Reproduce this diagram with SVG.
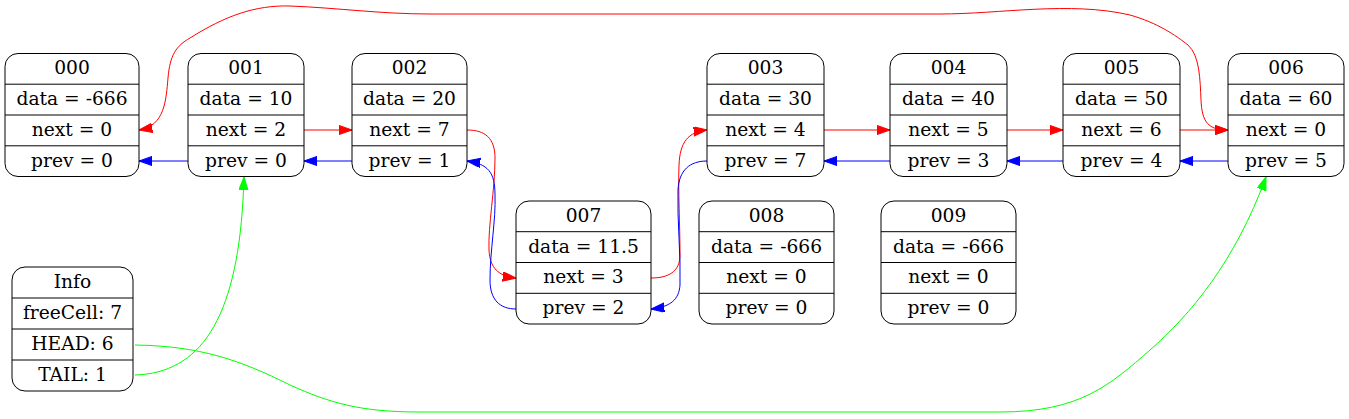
<svg xmlns="http://www.w3.org/2000/svg" width="1349" height="419" viewBox="0 0 1349 419">
<style>
.box{fill:#fff;stroke:#000;stroke-width:1}
.sep{stroke:#000;stroke-width:1}
text{font-family:"DejaVu Serif","Liberation Serif",serif;font-size:18.67px;text-anchor:middle;fill:#000}
.e{fill:none;stroke-width:1}
.r{stroke:#f00}.b{stroke:#00f}.g{stroke:#0f0}
</style>
<defs>
<marker id="ar" markerUnits="userSpaceOnUse" markerWidth="15" markerHeight="11" refX="13.3" refY="4.7" orient="auto-start-reverse"><path d="M0,0 L13.3,4.7 L0,9.4 z" fill="#f00" stroke="#f00"/></marker>
<marker id="ab" markerUnits="userSpaceOnUse" markerWidth="15" markerHeight="11" refX="13.3" refY="4.7" orient="auto"><path d="M0,0 L13.3,4.7 L0,9.4 z" fill="#00f" stroke="#00f"/></marker>
<marker id="ag" markerUnits="userSpaceOnUse" markerWidth="15" markerHeight="11" refX="13.3" refY="4.7" orient="auto"><path d="M0,0 L13.3,4.7 L0,9.4 z" fill="#0f0" stroke="#0f0"/></marker>
</defs>
<rect width="1349" height="419" fill="#fff"/>

<g id="connectors">
<path class="e r" d="M304,130 L352,130" marker-end="url(#ar)"/>
<path class="e b" d="M352,161 L304,161" marker-end="url(#ab)"/>
<path class="e b" d="M188,161 L139,161" marker-end="url(#ab)"/>
<path class="e r" d="M824,130 L890,130" marker-end="url(#ar)"/>
<path class="e r" d="M1007,130 L1063,130" marker-end="url(#ar)"/>
<path class="e r" d="M1180,130 L1228,130" marker-end="url(#ar)"/>
<path class="e b" d="M890,161 L824,161" marker-end="url(#ab)"/>
<path class="e b" d="M1063,161 L1007,161" marker-end="url(#ab)"/>
<path class="e b" d="M1228,161 L1180,161" marker-end="url(#ab)"/>
<path class="e r" d="M467,130 C485,130 495,138 495,158 C495,190 488,225 489,250 C490,268 498,276 516,278" marker-end="url(#ar)"/>
<path class="e b" d="M516,309 C500,309 490,300 490,280 C490,250 496,220 495,195 C495,172 488,164 467,161" marker-end="url(#ab)"/>
<path class="e r" d="M651,278 C668,278 680,272 680,255 C680,225 678,190 679,165 C680,142 688,132 707,130" marker-end="url(#ar)"/>
<path class="e b" d="M707,161 C690,161 679,170 678,190 C677,220 681,255 680,285 C679,300 670,307 651,309" marker-end="url(#ab)"/>
<path class="e r" d="M139,130 C165,126 166,100 168,78 C170,55 176,46 190,38 C225,16 255,5 290,6 C340,8 380,14 430,14 L940,14 C1000,14 1070,1 1130,15 C1158,23 1175,35 1188,45 C1200,56 1200,80 1201,100 C1202,122 1208,130 1228,130" marker-start="url(#ar)" marker-end="url(#ar)"/>
<path class="e g" d="M135,375 C200,373 236,320 243,200 L244,177" marker-end="url(#ag)"/>
<path class="e g" d="M135,345 C200,346 240,360 290,385 C330,403 360,412 420,412 L1000,412 C1080,412 1110,385 1150,350 C1190,315 1235,262 1266,177" marker-end="url(#ag)"/>
</g>

<g id="n000">
<rect class="box" x="5" y="53.5" width="134" height="123" rx="13"/>
<path class="sep" d="M5,84.2H139M5,115H139M5,145.8H139"/>
<text x="72" y="74">000</text><text x="72" y="105">data = -666</text><text x="72" y="136">next = 0</text><text x="72" y="167">prev = 0</text>
</g>
<g id="n001">
<rect class="box" x="188" y="53.5" width="116" height="123" rx="13"/>
<path class="sep" d="M188,84.2H304M188,115H304M188,145.8H304"/>
<text x="246" y="74">001</text><text x="246" y="105">data = 10</text><text x="246" y="136">next = 2</text><text x="246" y="167">prev = 0</text>
</g>
<g id="n002">
<rect class="box" x="352" y="53.5" width="115" height="123" rx="13"/>
<path class="sep" d="M352,84.2H467M352,115H467M352,145.8H467"/>
<text x="409.5" y="74">002</text><text x="409.5" y="105">data = 20</text><text x="409.5" y="136">next = 7</text><text x="409.5" y="167">prev = 1</text>
</g>
<g id="n003">
<rect class="box" x="707" y="53.5" width="117" height="123" rx="13"/>
<path class="sep" d="M707,84.2H824M707,115H824M707,145.8H824"/>
<text x="765.5" y="74">003</text><text x="765.5" y="105">data = 30</text><text x="765.5" y="136">next = 4</text><text x="765.5" y="167">prev = 7</text>
</g>
<g id="n004">
<rect class="box" x="890" y="53.5" width="117" height="123" rx="13"/>
<path class="sep" d="M890,84.2H1007M890,115H1007M890,145.8H1007"/>
<text x="948.5" y="74">004</text><text x="948.5" y="105">data = 40</text><text x="948.5" y="136">next = 5</text><text x="948.5" y="167">prev = 3</text>
</g>
<g id="n005">
<rect class="box" x="1063" y="53.5" width="117" height="123" rx="13"/>
<path class="sep" d="M1063,84.2H1180M1063,115H1180M1063,145.8H1180"/>
<text x="1121.5" y="74">005</text><text x="1121.5" y="105">data = 50</text><text x="1121.5" y="136">next = 6</text><text x="1121.5" y="167">prev = 4</text>
</g>
<g id="n006">
<rect class="box" x="1228" y="53.5" width="116" height="123" rx="13"/>
<path class="sep" d="M1228,84.2H1344M1228,115H1344M1228,145.8H1344"/>
<text x="1286" y="74">006</text><text x="1286" y="105">data = 60</text><text x="1286" y="136">next = 0</text><text x="1286" y="167">prev = 5</text>
</g>
<g id="n007">
<rect class="box" x="516" y="201" width="135" height="123" rx="13"/>
<path class="sep" d="M516,231.7H651M516,262.5H651M516,293.3H651"/>
<text x="583.5" y="222">007</text><text x="583.5" y="252.6">data = 11.5</text><text x="583.5" y="283.4">next = 3</text><text x="583.5" y="314.1">prev = 2</text>
</g>
<g id="n008">
<rect class="box" x="699" y="201" width="135" height="123" rx="13"/>
<path class="sep" d="M699,231.7H834M699,262.5H834M699,293.3H834"/>
<text x="766.5" y="222">008</text><text x="766.5" y="252.6">data = -666</text><text x="766.5" y="283.4">next = 0</text><text x="766.5" y="314.1">prev = 0</text>
</g>
<g id="n009">
<rect class="box" x="881" y="201" width="135" height="123" rx="13"/>
<path class="sep" d="M881,231.7H1016M881,262.5H1016M881,293.3H1016"/>
<text x="948.5" y="222">009</text><text x="948.5" y="252.6">data = -666</text><text x="948.5" y="283.4">next = 0</text><text x="948.5" y="314.1">prev = 0</text>
</g>
<g id="info">
<rect class="box" x="12" y="267" width="121" height="124" rx="13"/>
<path class="sep" d="M12,298H133M12,329H133M12,360H133"/>
<text x="72.5" y="288">Info</text><text x="72.5" y="319">freeCell: 7</text><text x="72.5" y="350">HEAD: 6</text><text x="72.5" y="381">TAIL: 1</text>
</g>
</svg>
